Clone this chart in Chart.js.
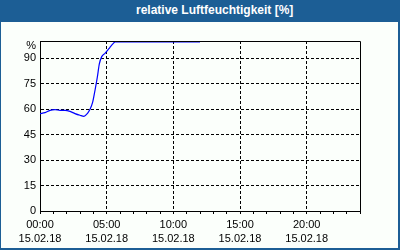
<!DOCTYPE html>
<html>
<head>
<meta charset="utf-8">
<script src="https://cdn.jsdelivr.net/npm/chart.js@4/dist/chart.umd.min.js"></script>
<style>
  html, body { margin: 0; padding: 0; }
  #frame { position: relative; width: 400px; height: 250px; background: #1c5e95; overflow: hidden; }
  #title { position: absolute; left: 136px; top: 3px; color: #fff; font: bold 12px "Liberation Sans", Arial, sans-serif; white-space: nowrap; }
  #box { position: absolute; left: 1px; top: 22px; width: 397px; height: 226px; background: #fbfffb; }
</style>
</head>
<body>
<div id="frame">
  <div id="title">relative Luftfeuchtigkeit [%]</div>
  <div id="box"><canvas id="chart" width="397" height="226"></canvas></div>
</div>
<script>
// time in hours since 00:00 on 15.02.18
const hours = [0, 0.375, 0.75, 1.125, 1.5, 1.875, 2.25, 2.625, 3.0, 3.3, 3.55, 3.75, 3.95, 4.125, 4.3, 4.45, 4.63, 4.875, 5.05, 5.25, 5.5, 5.63, 12];
const humidity = [57.3, 57.9, 59.2, 59.6, 59.2, 59.2, 58.6, 57.3, 56.3, 55.7, 57.3, 59.8, 64, 71, 78.7, 86.5, 90.8, 92.7, 94.3, 96.3, 98.6, 99.5, 99.5];

const yTicks = [0, 15, 30, 45, 60, 75, 90];
const xLabelHours = [0, 5, 10, 15, 20];
const xTimeLabels = ["00:00", "05:00", "10:00", "15:00", "20:00"];
const dateLabel = "15.02.18";

const font = { family: "'Liberation Sans', Arial, sans-serif", size: 11, lineHeight: 14 / 11 };

// solid frame on top/right plus the "%" unit label
const framePlugin = {
  id: "frame",
  afterDraw(chart) {
    const { ctx, chartArea: a } = chart;
    ctx.save();
    ctx.strokeStyle = "#000";
    ctx.lineWidth = 1;
    ctx.beginPath();
    ctx.moveTo(a.left + 0.5, a.top + 0.5);
    ctx.lineTo(a.right + 0.5, a.top + 0.5);
    ctx.lineTo(a.right + 0.5, a.bottom + 0.5);
    ctx.stroke();
    ctx.fillStyle = "#000";
    ctx.font = "11px 'Liberation Sans', Arial, sans-serif";
    ctx.textAlign = "right";
    ctx.textBaseline = "middle";
    ctx.fillText("%", a.left - 4, a.top + 5);
    ctx.restore();
  }
};

new Chart(document.getElementById("chart").getContext("2d"), {
  type: "line",
  data: {
    datasets: [{
      data: hours.map((h, i) => ({ x: h, y: humidity[i] })),
      borderColor: "#0000ff",
      borderWidth: 1.2,
      pointRadius: 0,
      fill: false,
      cubicInterpolationMode: "monotone"
    }]
  },
  options: {
    responsive: false,
    animation: false,
    layout: { padding: { top: 19, right: 38, left: 0, bottom: 0 } },
    plugins: { legend: { display: false }, tooltip: { enabled: false } },
    scales: {
      x: {
        type: "linear",
        min: 0,
        max: 24,
        afterFit(scale) { scale.height = 37; },
        afterBuildTicks(scale) {
          const t = [];
          for (let h = 0; h <= 24; h++) t.push({ value: h });
          scale.ticks = t;
        },
        ticks: {
          autoSkip: false,
          maxRotation: 0,
          padding: 4,
          color: "#000",
          font: font,
          callback(v) {
            const i = xLabelHours.indexOf(v);
            return i >= 0 ? [xTimeLabels[i], dateLabel] : "";
          }
        },
        grid: {
          color: (c) => (c.tick && c.tick.value % 5 === 0 && c.tick.value > 0 && c.tick.value < 24) ? "#000" : "rgba(0,0,0,0)",
          tickColor: "#000",
          tickLength: 3,
          lineWidth: 1
        },
        border: { color: "#000", width: 1, dash: [3, 2] }
      },
      y: {
        min: 0,
        max: 100,
        afterFit(scale) { scale.width = 39; },
        afterBuildTicks(scale) { scale.ticks = yTicks.map(v => ({ value: v })); },
        ticks: { padding: 4, color: "#000", font: font },
        grid: {
          color: (c) => (c.tick && c.tick.value > 0) ? "#000" : "rgba(0,0,0,0)",
          drawTicks: false,
          lineWidth: 1
        },
        border: { color: "#000", width: 1, dash: [3, 2] }
      }
    }
  },
  plugins: [framePlugin]
});
</script>
</body>
</html>
